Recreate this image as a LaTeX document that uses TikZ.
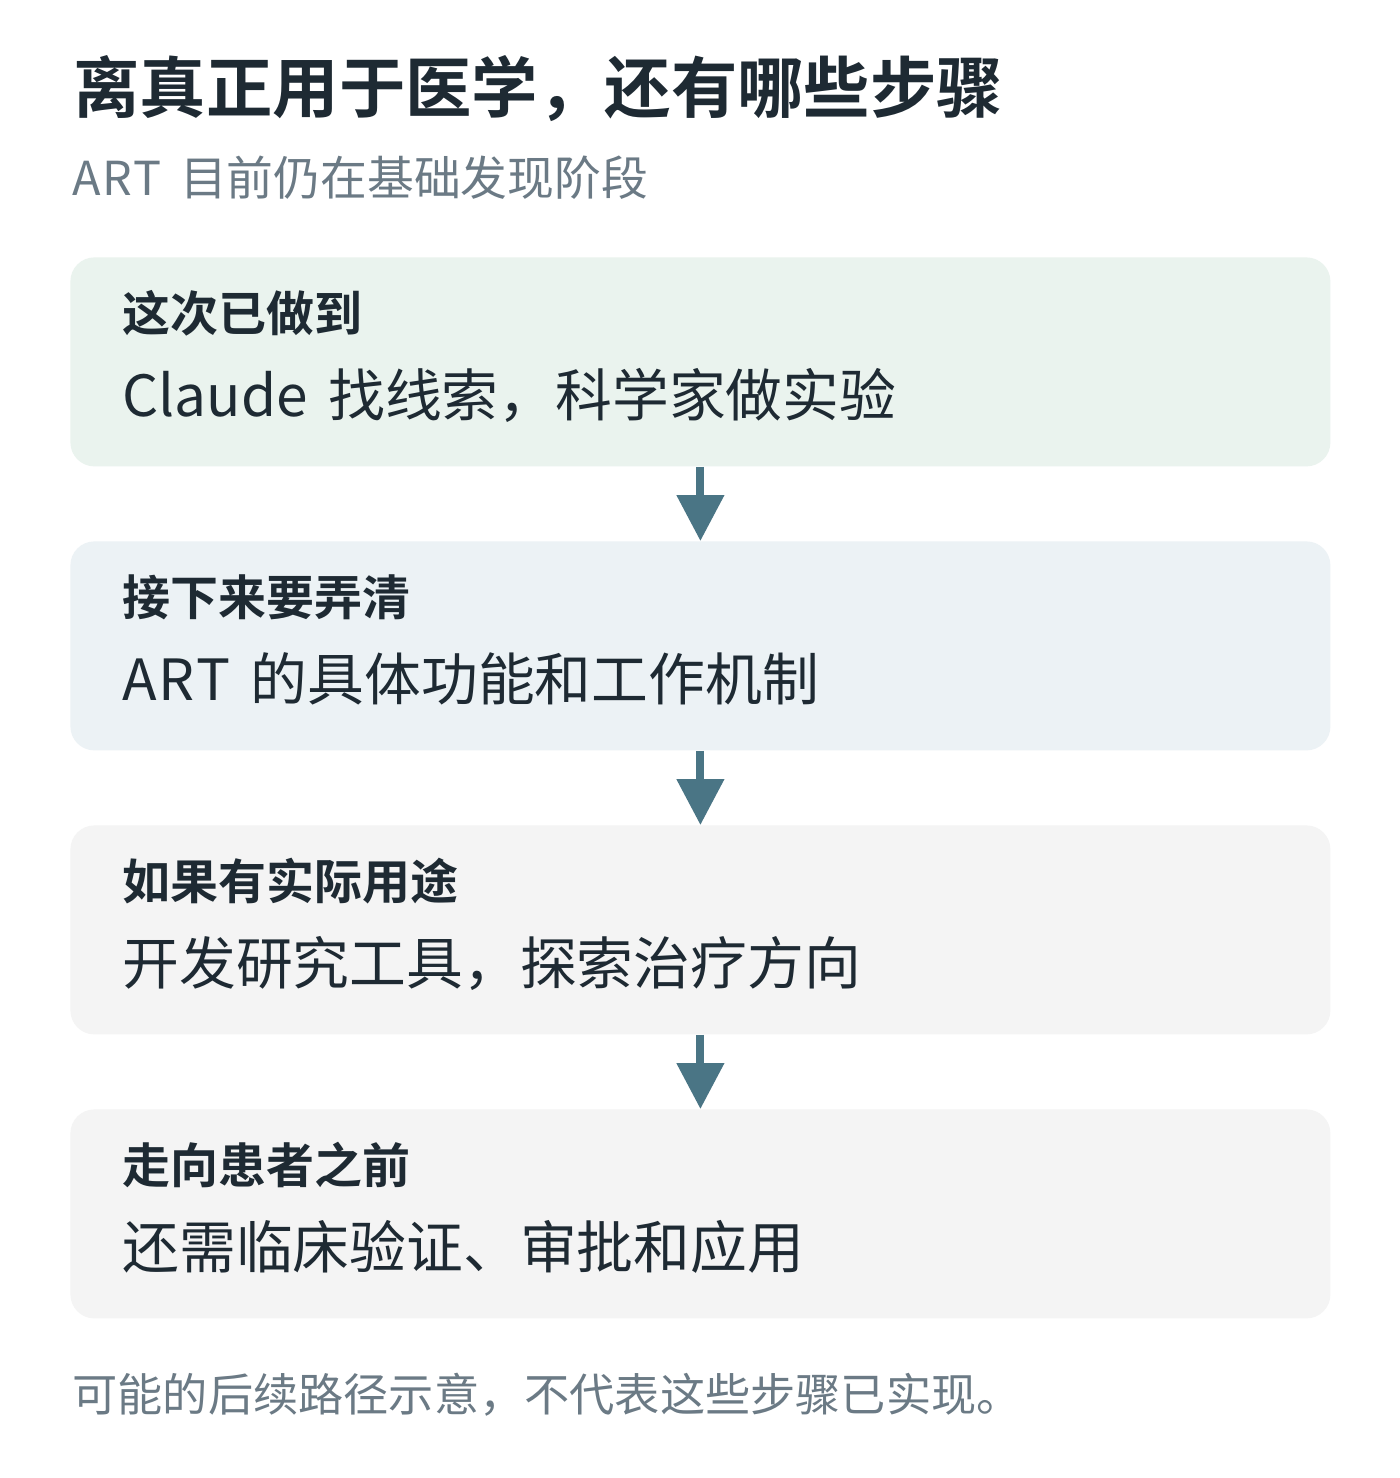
\documentclass[tikz,border=0pt]{standalone}
\usepackage{fontspec}
\setmainfont{Noto Sans CJK SC}[BoldFont={Noto Sans CJK SC Bold}]
\usetikzlibrary{arrows.meta, positioning, calc}
\definecolor{inkdark}{HTML}{1E2A33}
\definecolor{inkgray}{HTML}{6B7A85}
\definecolor{donegreen}{HTML}{EAF3EE}
\definecolor{nextblue}{HTML}{ECF2F5}
\definecolor{laterbg}{HTML}{F4F4F4}
\definecolor{flowteal}{HTML}{4A7585}
\newcommand{\wordgap}{\hspace{0.36em}}

\begin{document}
\begin{tikzpicture}[x=0.5pt, y=-0.5pt,
  stage/.style={rounded corners=12pt, inner sep=0pt, minimum width=630pt,
                minimum height=104.5pt, anchor=north west},
  head/.style={anchor=west, inner sep=0pt, font=\fontsize{24}{28}\selectfont\bfseries, text=inkdark},
  body/.style={anchor=west, inner sep=0pt, font=\fontsize{28.4}{34}\selectfont, text=inkdark},
  flow/.style={line width=4pt, flowteal, -{Triangle[width=23pt, length=23pt]}},
]
\useasboundingbox[fill=white] (0,0) rectangle (1400,1478);

% Title
\node[anchor=west, inner sep=0pt, font=\fontsize{33.2}{38}\selectfont\bfseries, text=inkdark]
  (title) at (73, 89) {离真正用于医学，还有哪些步骤};
\node[anchor=west, inner sep=0pt, font=\fontsize{23.4}{28}\selectfont, text=inkgray]
  (subtitle) at (72, 178) {A\kern0.03em R\kern0.03em T\hspace{0.4em}目前仍在基础发现阶段};

% Stage boxes
\node[stage, fill=donegreen] (s1) at (70, 257) {};
\node[stage, fill=nextblue] (s2) at (70, 541) {};
\node[stage, fill=laterbg] (s3) at (70, 825) {};
\node[stage, fill=laterbg] (s4) at (70, 1109) {};

% Stage texts
\node[head] (h1) at ([xshift=26pt, yshift=-28pt]s1.north west) {这次已做到};
\node[body] (b1) at ([xshift=26pt, yshift=-69pt]s1.north west) {Claude\wordgap 找线索，科学家做实验};
\node[head] (h2) at ([xshift=26pt, yshift=-28pt]s2.north west) {接下来要弄清};
\node[body] (b2) at ([xshift=26pt, yshift=-69pt]s2.north west) {A\kern0.03em R\kern0.03em T\wordgap 的具体功能和工作机制};
\node[head] (h3) at ([xshift=26pt, yshift=-28pt]s3.north west) {如果有实际用途};
\node[body] (b3) at ([xshift=26pt, yshift=-69pt]s3.north west) {开发研究工具，探索治疗方向};
\node[head] (h4) at ([xshift=26pt, yshift=-28pt]s4.north west) {走向患者之前};
\node[body] (b4) at ([xshift=26pt, yshift=-69pt]s4.north west) {还需临床验证、审批和应用};

% Arrows between stages
\draw[flow] (s1.south) -- (s2.north);
\draw[flow] (s2.south) -- (s3.north);
\draw[flow] (s3.south) -- (s4.north);

% Footnote
\node[anchor=west, inner sep=0pt, font=\fontsize{22.6}{26}\selectfont, text=inkgray]
  (note) at (72, 1395) {可能的后续路径示意，不代表这些步骤已实现。};
\end{tikzpicture}
\end{document}
